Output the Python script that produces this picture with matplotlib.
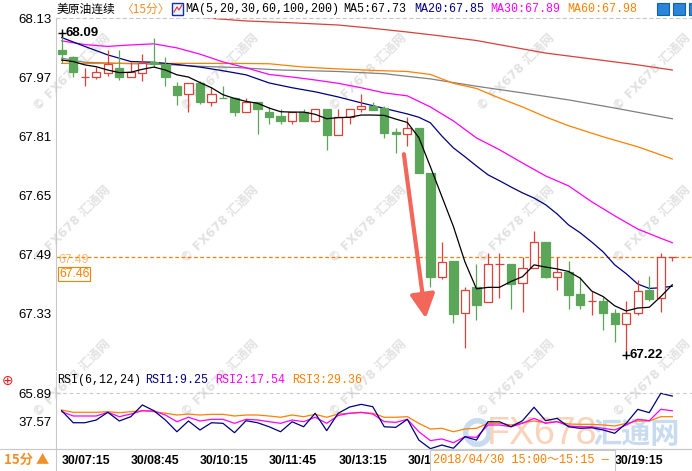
import numpy as np
import matplotlib.pyplot as plt
from matplotlib.patches import Rectangle
from matplotlib.lines import Line2D

plt.close('all')
plt.rcParams['font.family'] = ['Liberation Sans', 'Noto Sans CJK SC', 'DejaVu Sans']

# 15 min candles, index 0 = 30/07:15
opens = [68.044, 68.026, 67.973, 67.973, 67.984, 67.996, 67.973, 67.984, 68.014, 68.007,
         67.948, 67.925, 67.955, 67.903, 67.916, 67.914, 67.876, 67.905, 67.878, 67.867,
         67.854, 67.877, 67.854, 67.885, 67.815, 67.865, 67.885, 67.894, 67.887, 67.823,
         67.817, 67.833, 67.713, 67.431, 67.474, 67.332, 67.402, 67.363, 67.465, 67.466,
         67.413, 67.454, 67.524, 67.431, 67.443, 67.384, 67.365, 67.365, 67.332, 67.302,
         67.332, 67.395, 67.373, 67.483]
highs = [68.091, 68.030, 67.996, 67.999, 68.046, 68.046, 68.014, 68.034, 68.077, 68.026,
         67.958, 67.955, 67.960, 67.946, 67.948, 67.917, 67.915, 67.905, 67.892, 67.885,
         67.877, 67.885, 67.885, 67.885, 67.885, 67.885, 67.926, 67.903, 67.894, 67.833,
         67.865, 67.835, 67.713, 67.524, 67.474, 67.404, 67.466, 67.495, 67.495, 67.466,
         67.485, 67.555, 67.524, 67.485, 67.474, 67.431, 67.392, 67.377, 67.344, 67.365,
         67.422, 67.433, 67.496, 67.485]
lows = [68.010, 67.972, 67.949, 67.966, 67.976, 67.964, 67.973, 67.962, 68.000, 67.948,
        67.895, 67.878, 67.900, 67.894, 67.914, 67.867, 67.876, 67.818, 67.845, 67.845,
        67.845, 67.854, 67.850, 67.775, 67.815, 67.845, 67.878, 67.883, 67.808, 67.766,
        67.786, 67.713, 67.404, 67.425, 67.305, 67.237, 67.314, 67.363, 67.374, 67.344,
        67.335, 67.454, 67.427, 67.395, 67.344, 67.344, 67.326, 67.287, 67.255, 67.220,
        67.326, 67.365, 67.335, 67.474]
closes = [68.035, 67.987, 67.973, 67.985, 68.007, 67.973, 67.987, 68.011, 68.008, 67.973,
          67.924, 67.955, 67.903, 67.925, 67.914, 67.876, 67.905, 67.885, 67.865, 67.854,
          67.877, 67.854, 67.885, 67.815, 67.865, 67.885, 67.894, 67.883, 67.821, 67.817,
          67.833, 67.713, 67.431, 67.472, 67.330, 67.394, 67.353, 67.465, 67.465, 67.411,
          67.454, 67.524, 67.431, 67.443, 67.382, 67.353, 67.365, 67.332, 67.302, 67.332,
          67.393, 67.371, 67.483, 67.483]

# moving averages
ma5 = [68.018, 68.014, 68.005, 68.000, 67.991, 67.984, 67.985, 67.993, 67.999, 67.991,
       67.978, 67.972, 67.957, 67.943, 67.924, 67.914, 67.906, 67.901, 67.888, 67.878,
       67.877, 67.877, 67.871, 67.859, 67.862, 67.863, 67.869, 67.869, 67.868, 67.858,
       67.849, 67.808, 67.729, 67.648, 67.567, 67.471, 67.398, 67.402, 67.402, 67.418,
       67.431, 67.463, 67.457, 67.452, 67.445, 67.427, 67.392, 67.377, 67.352, 67.338,
       67.346, 67.348, 67.377, 67.409]
ma20_idx = [0, 2, 4, 6, 8, 10, 12, 14, 16, 18, 20, 22, 24, 26, 28, 30, 31, 32, 33, 34, 35,
            36, 37, 38, 39, 40, 41, 42, 43, 44, 45, 46, 47, 48, 49, 50, 51, 52, 53]
ma20 = [68.079, 68.055, 68.032, 68.014, 68.012, 68.006, 67.999, 67.989, 67.978, 67.956,
        67.943, 67.932, 67.918, 67.902, 67.887, 67.872, 67.863, 67.848, 67.812, 67.780,
        67.756, 67.731, 67.707, 67.691, 67.674, 67.658, 67.644, 67.626, 67.601, 67.571,
        67.550, 67.525, 67.498, 67.463, 67.439, 67.411, 67.399, 67.401, 67.405]
ma30_idx = [0, 2, 4, 6, 8, 10, 12, 14, 16, 18, 20, 22, 24, 26, 28, 30, 32, 34, 36, 38,
            40, 42, 44, 46, 48, 50, 52, 53]
ma30 = [68.070, 68.060, 68.055, 68.059, 68.062, 68.051, 68.034, 68.013, 67.997, 67.979,
        67.972, 67.964, 67.955, 67.943, 67.929, 67.921, 67.891, 67.853, 67.807, 67.775,
        67.739, 67.704, 67.677, 67.634, 67.596, 67.560, 67.535, 67.523]
ma60_idx = [0, 5, 10, 15, 18, 21, 24, 27, 30, 32, 34, 36, 38, 40, 42, 44, 47, 50, 53]
ma60 = [68.009, 68.009, 68.009, 68.009, 68.008, 67.999, 67.994, 67.990, 67.987, 67.979,
        67.955, 67.941, 67.915, 67.891, 67.864, 67.840, 67.810, 67.783, 67.750]
ma100_idx = [0, 2, 5, 9, 12, 15, 19, 24, 28, 32, 36, 40, 44, 48, 53]
ma100 = [68.023, 68.012, 68.009, 68.006, 68.001, 67.998, 67.991, 67.987, 67.981, 67.967,
         67.947, 67.929, 67.910, 67.888, 67.859]
ma200_idx = [0, 6, 10, 13, 16, 20, 24, 27, 30, 33, 36, 39, 42, 46, 50, 53]
ma200 = [68.175, 68.160, 68.145, 68.131, 68.124, 68.119, 68.113, 68.104, 68.094, 68.083,
         68.071, 68.054, 68.037, 68.021, 68.005, 67.991]

rsi1 = [48.1, 35.8, 35.8, 38.6, 46.5, 37.6, 42.0, 54.0, 48.1, 38.6,
        26.6, 37.6, 28.4, 35.8, 35.2, 25.6, 37.9, 35.8, 31.7, 26.6,
        36.8, 31.7, 45.5, 27.7, 45.5, 51.9, 54.6, 52.2, 31.7, 31.1,
        39.3, 18.1, 9.25, 13.0, 9.7, 21.5, 18.1, 36.8, 36.8, 31.7,
        37.9, 51.6, 37.9, 40.3, 31.7, 30.1, 30.7, 28.4, 25.0, 35.2,
        49.5, 46.1, 65.89, 63.1]
rsi2 = [47.1, 42.7, 42.7, 42.7, 46.5, 42.0, 44.7, 48.1, 47.8, 43.7,
        36.9, 41.4, 37.6, 39.3, 39.3, 35.2, 39.3, 38.6, 36.9, 35.2,
        38.6, 36.9, 41.4, 35.2, 43.2, 45.5, 46.5, 44.7, 36.9, 36.2,
        39.3, 26.6, 17.54, 19.2, 15.4, 21.5, 20.9, 33.5, 33.5, 31.7,
        35.2, 40.3, 35.2, 36.9, 32.5, 31.7, 31.7, 30.1, 28.4, 33.5,
        39.3, 37.9, 49.5, 48.1]
rsi3 = [48.8, 46.5, 46.5, 46.5, 47.1, 46.1, 47.1, 48.1, 47.1, 45.5,
        43.7, 44.7, 43.7, 44.4, 44.4, 42.7, 43.7, 43.7, 42.7, 41.4,
        43.7, 42.0, 44.4, 41.4, 44.7, 45.5, 46.1, 45.5, 41.4, 41.4,
        42.0, 35.2, 29.36, 30.1, 26.6, 29.4, 30.1, 35.2, 35.2, 33.5,
        35.8, 37.6, 35.8, 36.9, 34.5, 34.2, 34.2, 33.5, 32.5, 35.2,
        37.6, 37.6, 42.0, 42.0]

price_ticks = [68.13, 67.97, 67.81, 67.65, 67.49, 67.33]
rsi_ticks = [65.89, 37.57]
# 16:15 and 17:45 sit under the crosshair time box, only "30/1" of 14:45 shows
time_idx = [0, 6, 12, 18, 24, 30, 48]
time_labels = ['30/07:15', '30/08:45', '30/10:15', '30/11:45', '30/13:15',
               '30/1', '30/19:15']
arrow_from = (29.7, 67.763)
arrow_to = (31.6, 67.318)

RED = '#e0403a'
GREEN = '#5ca65a'
NAVY = '#000080'
MAG = '#ff00ff'
ORG = '#ff8000'
GRID = '#c8c8c8'

W, H = 692, 471
def fx(px):
    return px / W
def fy(py):
    return 1 - py / H

fig = plt.figure(figsize=(6.92, 4.71), dpi=100, facecolor='white')
ax = fig.add_axes([fx(56), fy(370), (692 - 56) / W, (370 - 18) / H])
rx = fig.add_axes([fx(56), fy(449), (692 - 56) / W, (449 - 372) / H])
for a in (ax, rx):
    a.set_facecolor('none')
    a.set_xlim(-0.495, 54.71)
    for s in a.spines.values():
        s.set_color(GRID)
        s.set_linewidth(0.8)
    a.spines['right'].set_visible(False)
    a.tick_params(length=0)

# ---- candles
o = np.array(opens); c = np.array(closes)
x = np.arange(len(o))
up = c >= o
cols = np.where(up, RED, GREEN)
face = np.where(up, 'white', GREEN)
ax.vlines(x, lows, highs, colors=cols, lw=0.9, zorder=3)
ax.bar(x, c - o, bottom=o, width=0.72, color=face, edgecolor=cols, lw=0.9, zorder=4)

# ---- moving averages
ax.plot(ma200_idx, ma200, color='#d8403a', lw=0.9, zorder=2)
ax.plot(ma100_idx, ma100, color='#808080', lw=0.9, zorder=2)
ax.plot(ma60_idx, ma60, color=ORG, lw=0.9, zorder=2)
ax.plot(ma30_idx, ma30, color=MAG, lw=0.9, zorder=2)
ax.plot(ma20_idx, ma20, color=NAVY, lw=0.9, zorder=2)
ax.plot(x, ma5, color='black', lw=0.9, zorder=5)

ax.axhline(closes[-1], color=ORG, ls=(0, (3, 2)), lw=0.9, zorder=1)

ax.set_ylim(67.178, 68.132)
ax.set_yticks(price_ticks, [f'{v:.2f}' for v in price_ticks])
ax.tick_params(axis='y', pad=3, labelsize=9.5)
ax.set_xticks([])
ax.spines['bottom'].set_visible(False)
ax.spines['top'].set_linestyle((0, (3, 3)))

# high / low marks
ih = int(np.argmax(highs)); il = int(np.argmin(lows))
for i, v in ((ih, highs[ih]), (il, lows[il])):
    ax.plot([i], [v], marker='+', ms=6, mew=1, color='black', zorder=6)
    ax.annotate(f'{v:.2f}', (i, v), xytext=(2.5, 0), textcoords='offset points',
                ha='left', va='center', fontsize=9.5, fontweight='bold', zorder=6)

ax.annotate('', xy=arrow_to, xytext=arrow_from,
            arrowprops=dict(arrowstyle='-|>,head_length=1.45,head_width=0.75',
                            lw=3, color='#f2675a', shrinkA=0, shrinkB=0,
                            mutation_scale=10), zorder=6)

# ---- RSI
rx.plot(x, rsi3, color=ORG, lw=0.9)
rx.plot(x, rsi2, color=MAG, lw=0.9)
rx.plot(x, rsi1, color=NAVY, lw=0.9)
rx.axhline(rsi_ticks[0], color=GRID, ls=(0, (3, 3)), lw=0.8)
rx.set_ylim(8.94, 87.7)
rx.set_yticks(rsi_ticks, [f'{v:.2f}' for v in rsi_ticks])
rx.tick_params(axis='y', pad=3, labelsize=9.5)
rx.spines['top'].set_visible(False)
rx.set_xticks(time_idx, time_labels)
rx.tick_params(axis='x', pad=4, labelsize=8.8)
for lbl in rx.get_xticklabels():
    lbl.set_ha('left')
    lbl.set_fontweight('bold')

# ---- header texts
mono = ['Liberation Mono', 'Noto Sans CJK SC']
fig.text(fx(57), fy(9), '美原油连续', fontsize=8.5, va='center',
         family=['Noto Sans CJK SC'])
fig.text(fx(121), fy(9), '〈15分〉', fontsize=8.5, va='center', color='#f0902a',
         family=['Noto Sans CJK SC'])
fig.add_artist(Rectangle((fx(172), fy(15)), 11 / W, 12 / H, transform=fig.transFigure,
                         facecolor='#eef3ff', edgecolor='#1030a0', lw=1))
fig.add_artist(Line2D([fx(174), fx(177), fx(179), fx(182)], [fy(12), fy(7), fy(10), fy(5)],
                      transform=fig.transFigure, color='#e03030', lw=0.8))
header = [(185, 'MA(5,20,30,60,100,200)', 'black'), (343, 'MA5:67.73', 'black'),
          (414, 'MA20:67.85', NAVY), (490, 'MA30:67.89', MAG), (567, 'MA60:67.98', ORG)]
for px, t, col in header:
    fig.text(fx(px), fy(9), t, fontsize=8.4, va='center', color=col, family=mono)
for px in (657, 673, 689):
    fig.add_artist(Rectangle((fx(px), fy(15)), 12 / W, 12 / H, transform=fig.transFigure,
                             facecolor='#2a86d6', edgecolor='#1060b0', lw=0.8))

rsi_head = [(57, 'RSI(6,12,24)', 'black'), (145, 'RSI1:9.25', NAVY),
            (215, 'RSI2:17.54', MAG), (292, 'RSI3:29.36', ORG)]
for px, t, col in rsi_head:
    fig.text(fx(px), fy(380), t, fontsize=8.4, va='center', color=col, family=mono)
fig.text(fx(8), fy(381), '⊕', fontsize=10, color='#e02020', ha='center', va='center',
         family=['DejaVu Sans'])

# left price tags
fig.text(fx(58), fy(260), '67.49', fontsize=8.8, va='center', color=ORG, alpha=0.55)
fig.text(fx(59), fy(274), '67.46', fontsize=8.8, va='center', color=ORG,
         bbox=dict(boxstyle='square,pad=0.08', facecolor='white', edgecolor=ORG, lw=0.8))

# bottom bar
fig.add_artist(Line2D([0, 1], [fy(449), fy(449)], transform=fig.transFigure, color=GRID, lw=0.8))
fig.add_artist(Line2D([fx(56), fx(56)], [0, fy(449)], transform=fig.transFigure, color=GRID, lw=0.8))
fig.text(fx(4), fy(460), '15分 ▲', fontsize=9.5, va='center', color='#f0902a',
         fontweight='bold', family=['Noto Sans CJK SC', 'DejaVu Sans'])
fig.add_artist(Rectangle((fx(430), 0), 185 / W, fy(450), transform=fig.transFigure,
                         facecolor='white', edgecolor=GRID, lw=0.8, zorder=5))
fig.text(fx(433), fy(460), '2018/04/30 15:00～15:15 —', fontsize=8.6, va='center',
         color=ORG, family=mono, zorder=6)

# watermarks
wm_family = ['DejaVu Sans', 'Noto Sans CJK SC']
for wy in (72, 224, 378):
    for wx in (72, 220, 368, 516, 652):
        fig.text(fx(wx), fy(wy), '© FX678 汇通网', rotation=45, fontsize=9,
                 fontweight='bold', color='#e2e2e2', ha='center', va='center',
                 family=wm_family, zorder=-2)
fig.text(fx(487), fy(434), 'FX678', fontsize=27, color='#f9d3bb', va='center',
         family=['Liberation Sans'], zorder=-1)
fig.text(fx(592), fy(434), '汇通网', fontsize=21, color='#c9dcef', va='center',
         fontweight='bold', family=['Noto Sans CJK SC'], zorder=-1)
fig.add_artist(Line2D([fx(477)], [fy(432)], marker='o', ms=17, mfc='none', mec='#c9dcef',
                      mew=4, transform=fig.transFigure, zorder=-1))

fig.savefig('out.png', dpi=100, facecolor='white')
